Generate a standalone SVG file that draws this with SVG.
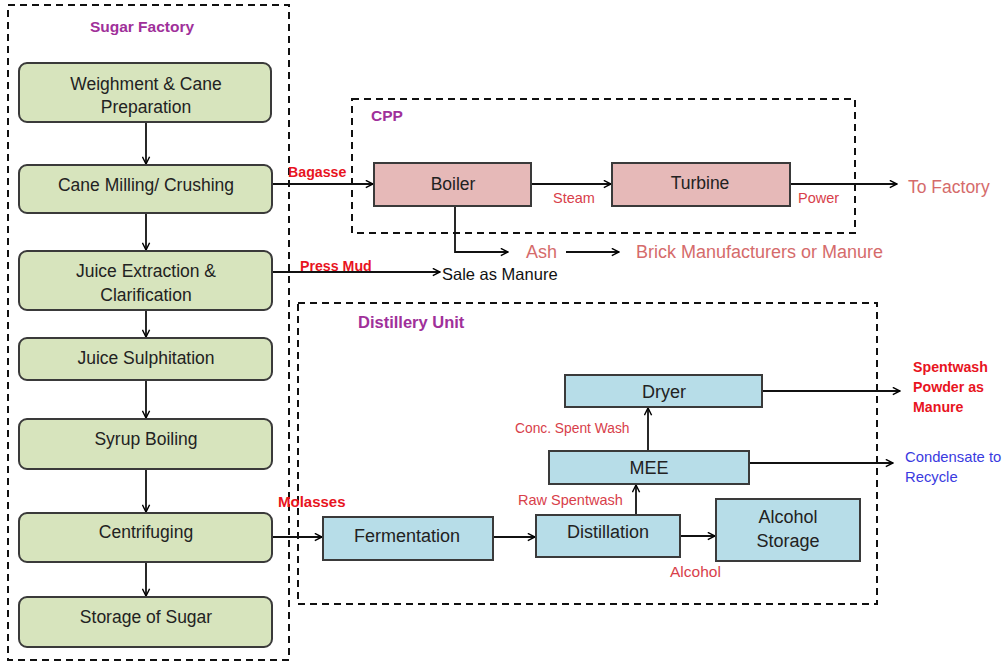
<svg xmlns="http://www.w3.org/2000/svg" width="1008" height="663" viewBox="0 0 1008 663">
<defs>
<marker id="ah" viewBox="0 0 10 10" refX="9" refY="5" markerWidth="9" markerHeight="9" markerUnits="userSpaceOnUse" orient="auto">
<path d="M1,1 L9,5 L1,9" fill="none" stroke="#000" stroke-width="1.6"/>
</marker>
<style>
text{font-family:"Liberation Sans",Arial,sans-serif}
.dash{fill:none;stroke:#111;stroke-width:2;stroke-dasharray:7 5}
.g{fill:#d7e4bd;stroke:#3a3a3a;stroke-width:2}
.p{fill:#e6b9b8;stroke:#3a3a3a;stroke-width:2}
.b{fill:#b7dde8;stroke:#3a3a3a;stroke-width:2}
.t{font-size:17.5px;fill:#222;text-anchor:middle}
.tb{font-size:18px;fill:#222;text-anchor:middle}
.hd{font-size:15.5px;fill:#a0309a;font-weight:bold}
.rb{font-size:14.2px;fill:#e8141e;font-weight:bold}
.rl{font-size:14.5px;fill:#d8404a}
.pk{font-size:18px;fill:#d56b6b}
.bl{font-size:14.8px;fill:#3a3ae0}
.c{fill:none;stroke:#111;stroke-width:1.8}
</style>
</defs>
<rect class="dash" x="8" y="5" width="281" height="655"/>
<text class="hd" x="142" y="32" text-anchor="middle">Sugar Factory</text>
<rect class="dash" x="352" y="99" width="503" height="134"/>
<text class="hd" x="371" y="121">CPP</text>
<rect class="dash" x="298" y="303" width="579" height="301"/>
<text class="hd" x="358" y="328" style="font-size:16.5px">Distillery Unit</text>

<g id="connectors">
<line class="c" x1="146" y1="122" x2="146" y2="164" marker-end="url(#ah)"/>
<line class="c" x1="146" y1="213" x2="146" y2="250" marker-end="url(#ah)"/>
<line class="c" x1="146" y1="310" x2="146" y2="337" marker-end="url(#ah)"/>
<line class="c" x1="146" y1="380" x2="146" y2="418" marker-end="url(#ah)"/>
<line class="c" x1="146" y1="469" x2="146" y2="512" marker-end="url(#ah)"/>
<line class="c" x1="146" y1="562" x2="146" y2="596" marker-end="url(#ah)"/>
<line class="c" x1="272" y1="184" x2="373" y2="184" marker-end="url(#ah)"/>
<line class="c" x1="531" y1="184" x2="611" y2="184" marker-end="url(#ah)"/>
<line class="c" x1="790" y1="184" x2="897" y2="184" marker-end="url(#ah)"/>
<polyline class="c" points="455,206 455,252 508,252" marker-end="url(#ah)"/>
<line class="c" x1="566" y1="252" x2="619" y2="252" marker-end="url(#ah)"/>
<line class="c" x1="272" y1="272" x2="440" y2="272" marker-end="url(#ah)"/>
<line class="c" x1="272" y1="537" x2="322" y2="537" marker-end="url(#ah)"/>
<line class="c" x1="493" y1="537" x2="535" y2="537" marker-end="url(#ah)"/>
<line class="c" x1="680" y1="536" x2="715" y2="536" marker-end="url(#ah)"/>
<line class="c" x1="636" y1="515" x2="636" y2="485" marker-end="url(#ah)"/>
<line class="c" x1="648" y1="451" x2="648" y2="408" marker-end="url(#ah)"/>
<line class="c" x1="762" y1="391" x2="900" y2="391" marker-end="url(#ah)"/>
<line class="c" x1="749" y1="463" x2="893" y2="463" marker-end="url(#ah)"/>
</g>

<g id="weighment"><rect class="g" x="19" y="63" width="252" height="59" rx="8"/><text class="t" x="146" y="90">Weighment  &amp; Cane</text><text class="t" x="146" y="113">Preparation</text></g>
<g id="milling"><rect class="g" x="19" y="165" width="253" height="48" rx="8"/><text class="t" x="146" y="191">Cane Milling/ Crushing</text></g>
<g id="juice-extraction"><rect class="g" x="19" y="251" width="253" height="59" rx="8"/><text class="t" x="146" y="277">Juice Extraction &amp;</text><text class="t" x="146" y="301">Clarification</text></g>
<g id="sulphitation"><rect class="g" x="19" y="338" width="253" height="42" rx="8"/><text class="t" x="146" y="364">Juice Sulphitation</text></g>
<g id="syrup"><rect class="g" x="19" y="419" width="253" height="50" rx="8"/><text class="t" x="146" y="445">Syrup Boiling</text></g>
<g id="centrifuging"><rect class="g" x="19" y="513" width="253" height="49" rx="8"/><text class="t" x="146" y="538">Centrifuging</text></g>
<g id="storage-sugar"><rect class="g" x="19" y="597" width="253" height="50" rx="8"/><text class="t" x="146" y="623">Storage of Sugar</text></g>

<g id="boiler"><rect class="p" x="374" y="163" width="157" height="43"/><text class="t" x="453" y="190">Boiler</text></g>
<g id="turbine"><rect class="p" x="612" y="163" width="178" height="43"/><text class="t" x="700" y="189">Turbine</text></g>

<g id="dryer"><rect class="b" x="565" y="375" width="197" height="32"/><text class="tb" x="664" y="398">Dryer</text></g>
<g id="mee"><rect class="b" x="549" y="451" width="200" height="33"/><text class="tb" x="649" y="474">MEE</text></g>
<g id="fermentation"><rect class="b" x="323" y="517" width="170" height="43"/><text class="tb" x="407" y="542">Fermentation</text></g>
<g id="distillation"><rect class="b" x="536" y="515" width="144" height="42"/><text class="tb" x="608" y="538">Distillation</text></g>
<g id="alcohol-storage"><rect class="b" x="716" y="499" width="144" height="62"/><text class="tb" x="788" y="523">Alcohol</text><text class="tb" x="788" y="547">Storage</text></g>

<g id="labels">
<text class="rb" x="288" y="177">Bagasse</text>
<text class="rl" x="553" y="203">Steam</text>
<text class="rl" x="798" y="203">Power</text>
<text class="pk" x="908" y="193" style="font-size:17.5px">To Factory</text>
<text class="pk" x="526" y="258">Ash</text>
<text class="pk" x="636" y="258">Brick Manufacturers or Manure</text>
<text class="rb" x="300" y="271">Press Mud</text>
<text x="442" y="280" style="font-size:16.5px;fill:#111">Sale as Manure</text>
<text class="rb" x="278" y="507" style="font-size:15px">Molasses</text>
<text class="rl" x="670" y="577" style="font-size:15.5px">Alcohol</text>
<text class="rl" x="518" y="505">Raw Spentwash</text>
<text class="rl" x="515" y="433" style="font-size:13.8px">Conc. Spent Wash</text>
<text class="rb" x="913" y="372">Spentwash</text>
<text class="rb" x="913" y="392">Powder as</text>
<text class="rb" x="913" y="412">Manure</text>
<text class="bl" x="905" y="462">Condensate to</text>
<text class="bl" x="905" y="482">Recycle</text>
</g>
</svg>
